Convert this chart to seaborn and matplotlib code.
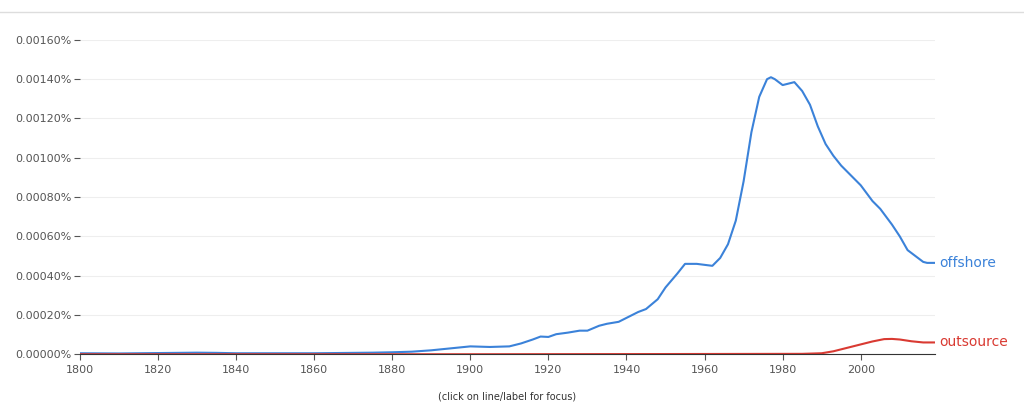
import matplotlib
matplotlib.use("Agg")
import matplotlib.pyplot as plt
import seaborn as sns
import pandas as pd

years_off = [1800,1810,1820,1830,1835,1840,1860,1875,1880,1885,1890,1895,1900,1905,1910,1913,1916,1918,1920,1922,1925,1928,1930,1933,1935,1938,1940,1943,1945,1948,1950,1953,1955,1958,1960,1962,1964,1966,1968,1970,1972,1974,1976,1977,1978,1980,1983,1985,1987,1989,1991,1993,1995,1998,2000,2003,2005,2008,2010,2012,2014,2016,2017,2019]
offshore = [0.000005,0.000004,0.000006,0.000008,0.000007,0.000005,0.000005,0.000008,0.000010,0.000013,0.000020,0.000030,0.000040,0.000037,0.000040,0.000055,0.000075,0.000090,0.000088,0.000102,0.000110,0.000120,0.000120,0.000145,0.000155,0.000165,0.000185,0.000215,0.000230,0.000280,0.000340,0.000410,0.000460,0.000460,0.000455,0.000450,0.000490,0.000560,0.000680,0.000880,0.001130,0.001310,0.001400,0.001410,0.001400,0.001370,0.001385,0.001340,0.001270,0.001160,0.001070,0.001010,0.000960,0.000900,0.000860,0.000780,0.000740,0.000660,0.000600,0.000530,0.000500,0.000470,0.000465,0.000465]
years_out = [1800,1850,1900,1950,1985,1990,1993,1996,2000,2003,2006,2008,2010,2013,2016,2019]
outsource = [0.0,0.0,0.0,0.000001,0.000002,0.000005,0.000015,0.000030,0.000050,0.000065,0.000077,0.000078,0.000075,0.000066,0.000060,0.000060]

df = pd.concat([
    pd.DataFrame({"year": years_off, "value": offshore, "term": "offshore"}),
    pd.DataFrame({"year": years_out, "value": outsource, "term": "outsource"}),
])
colors = {"offshore": "#3b82d9", "outsource": "#d93a32"}

fig = plt.figure(figsize=(10.24, 4.03), dpi=100)
ax = fig.add_axes([0.078, 0.121, 0.835, 0.78])
sns.lineplot(data=df, x="year", y="value", hue="term", palette=colors, ax=ax, legend=False, linewidth=1.5)
ax.set_xlim(1800, 2019)
ax.set_ylim(0, 0.0016)
ax.set_yticks([i * 0.0002 for i in range(9)])
ax.set_yticklabels([f"{i*0.0002:.5f}%" for i in range(9)], fontsize=8, color="#555")
ax.set_xticks(range(1800, 2020, 20))
ax.set_xticklabels([str(y) for y in range(1800, 2020, 20)], fontsize=8, color="#555")
ax.tick_params(axis="y", length=4, color="#555", direction="out", pad=2)
ax.tick_params(axis="x", length=4, color="#555")
ax.yaxis.tick_left()
ax.grid(axis="y", color="#eeeeee", linewidth=0.8)
ax.set_axisbelow(True)
for s in ["top", "right", "left"]:
    ax.spines[s].set_visible(False)
ax.spines["bottom"].set_color("#333")
ax.set_xlabel("(click on line/label for focus)", fontsize=7, color="#333", labelpad=12)
ax.set_ylabel("")
ax.text(2020, offshore[-1], "offshore", color=colors["offshore"], fontsize=10, va="center", ha="left", clip_on=False)
ax.text(2020, outsource[-1], "outsource", color=colors["outsource"], fontsize=10, va="center", ha="left", clip_on=False)
fig.add_artist(plt.Line2D([0, 1], [0.97, 0.97], color="#dddddd", linewidth=1, transform=fig.transFigure))
fig.savefig("out.png", dpi=100, facecolor="white")
